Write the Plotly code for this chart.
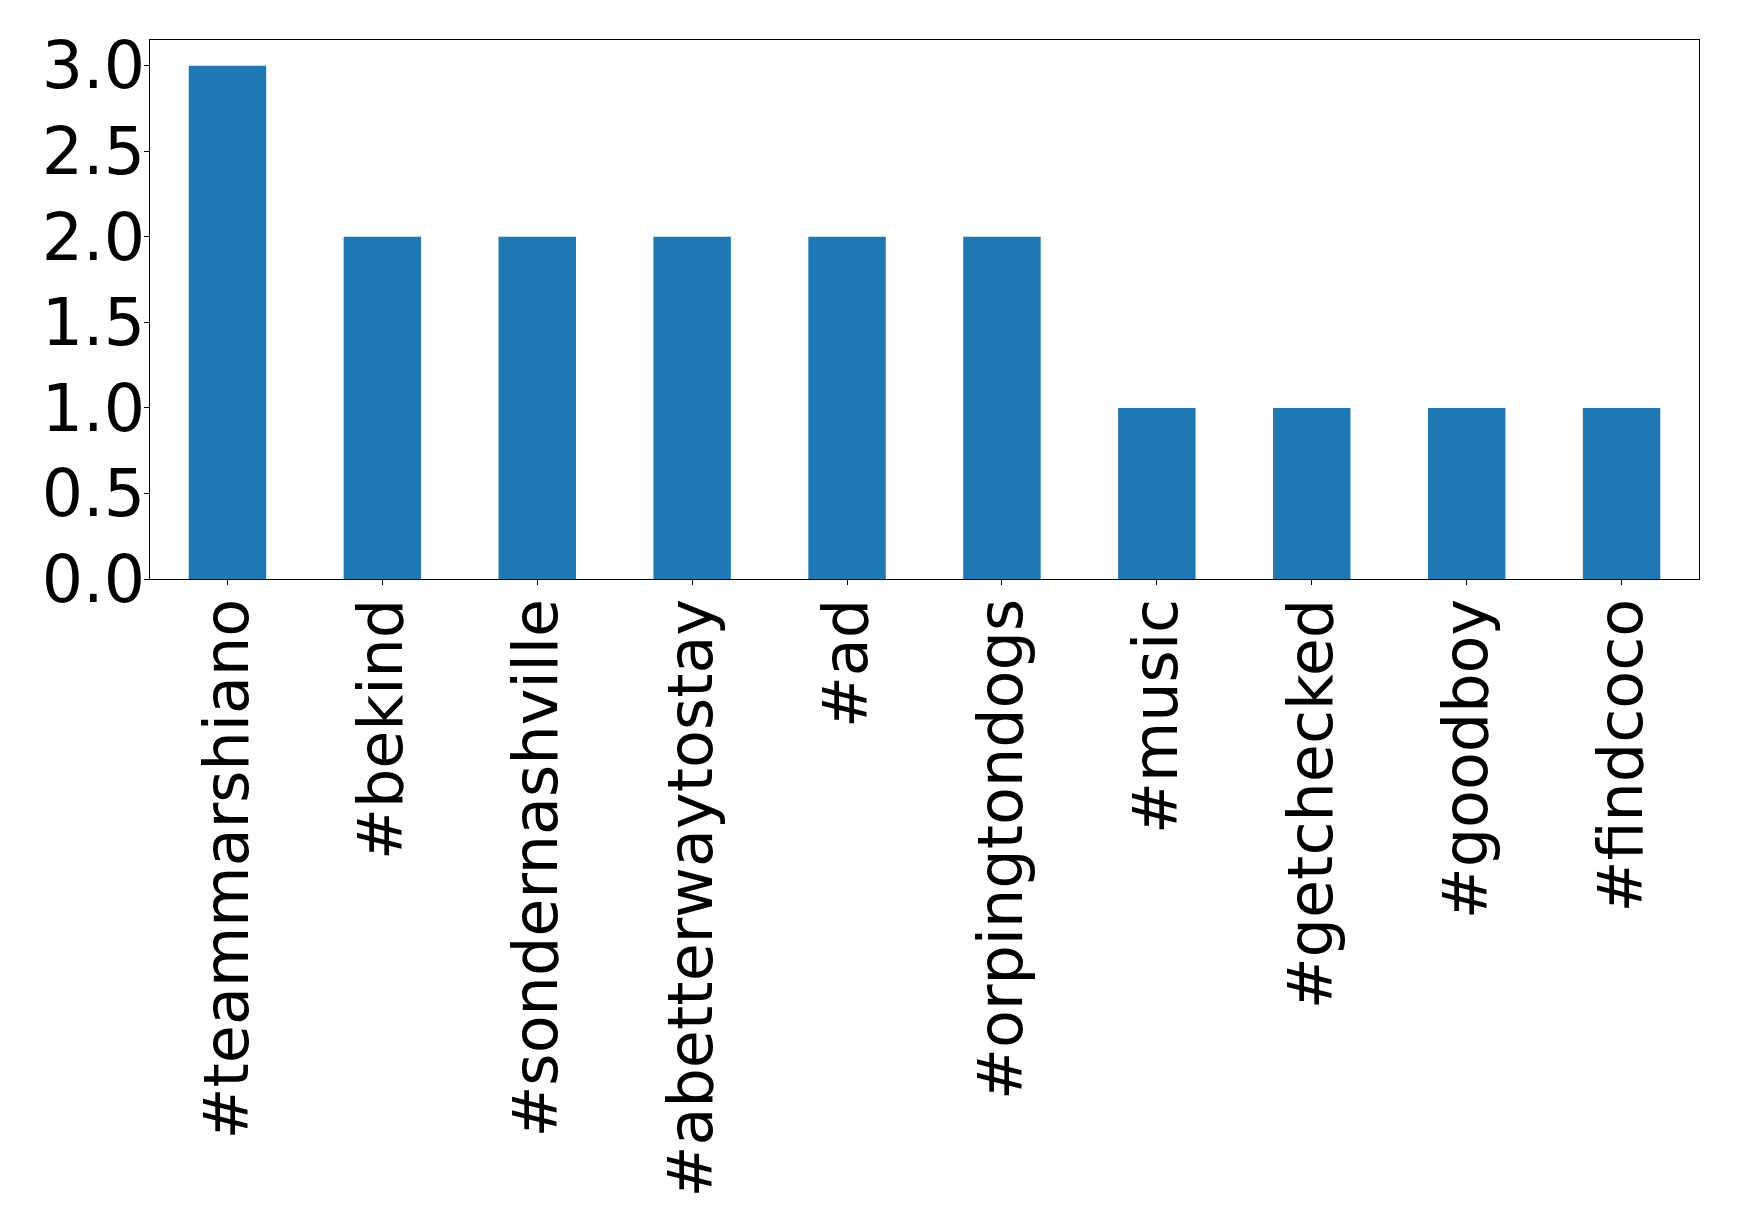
import plotly.graph_objects as go

categories = ["#teammarshiano", "#bekind", "#sondernashville", "#abetterwaytostay",
              "#ad", "#orpingtondogs", "#music", "#getchecked", "#goodboy", "#findcoco"]
counts = [3, 2, 2, 2, 2, 2, 1, 1, 1, 1]
y_ticks = [0.0, 0.5, 1.0, 1.5, 2.0, 2.5, 3.0]

fig = go.Figure(go.Bar(
    x=list(range(len(categories))), y=counts,
    width=0.5, marker=dict(color="#1f77b4", line=dict(width=0)),
))

font = dict(family="DejaVu Sans", size=62, color="black")
fig.update_layout(
    width=1731, height=1224,
    margin=dict(l=142, r=40, t=32, b=653, autoexpand=False),
    paper_bgcolor="white", plot_bgcolor="white",
    showlegend=False,
    font=font,
)
fig.update_xaxes(
    range=[-0.5, 9.5], automargin=False,
    tickmode="array", tickvals=list(range(len(categories))), ticktext=categories,
    tickangle=-90, ticklabelstandoff=-11,
    ticks="outside", ticklen=5, tickwidth=1, tickcolor="black",
    showline=True, linecolor="black", linewidth=1, mirror=True,
    showgrid=False, zeroline=False, tickfont=font,
)
fig.update_yaxes(
    range=[0, 3.15], automargin=False,
    tickmode="array", tickvals=y_ticks, ticktext=[f"{v:.1f}" for v in y_ticks],
    ticklabelstandoff=-14,
    ticks="outside", ticklen=5, tickwidth=1, tickcolor="black",
    showline=True, linecolor="black", linewidth=1, mirror=True,
    showgrid=False, zeroline=False, tickfont=dict(family="DejaVu Sans", size=65, color="black"),
)
fig.write_html("out.html")
